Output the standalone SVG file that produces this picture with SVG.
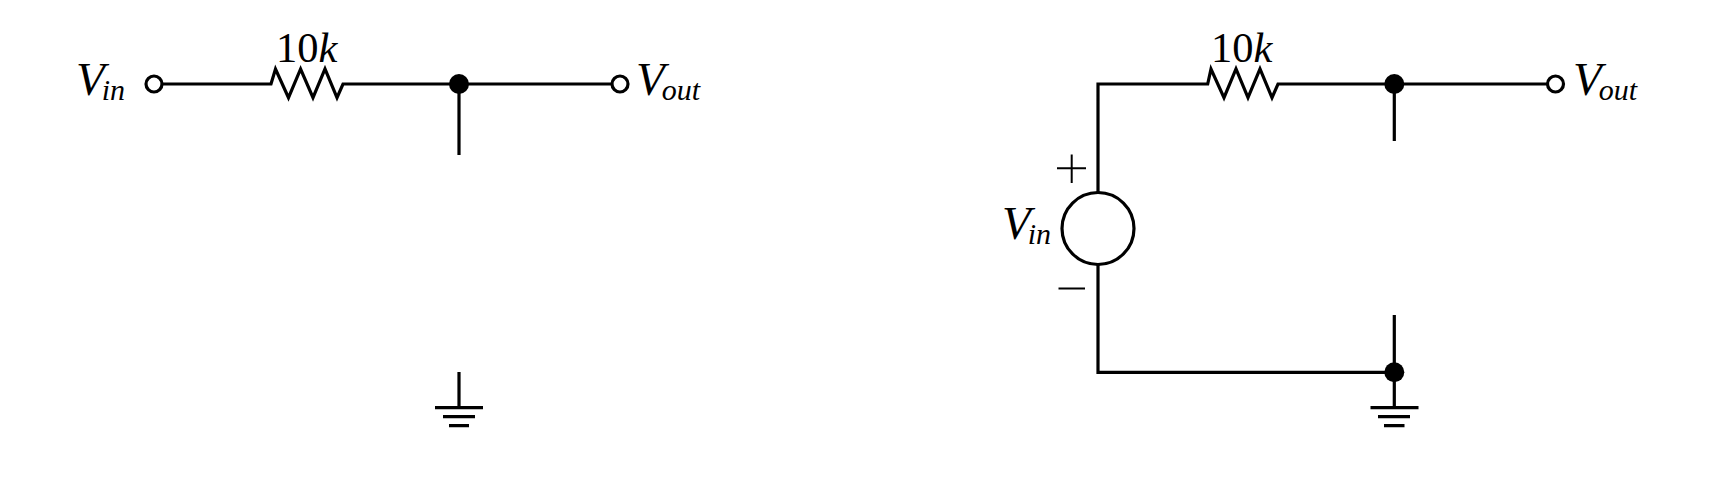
<svg xmlns="http://www.w3.org/2000/svg" width="1736" height="480" viewBox="0 0 1736 480">
<style>
.w{fill:none;stroke:#000;stroke-width:3.2;stroke-linejoin:miter}
.t{fill:none;stroke:#000;stroke-width:2}
.o{fill:#fff;stroke:#000;stroke-width:3.2}
.d{fill:#000}
text{font-family:"Liberation Serif","Times New Roman",serif;fill:#000}
.m{font-size:42.500px}
.v{font-size:47px;font-style:italic}
.s{font-size:30px}
</style>
<rect width="1736" height="480" fill="#fff"/>
<g id="connectors">
<path class="w" d="M162 84H271L275.500 69L288.500 97.700L300.600 69L313 97.700L325 69L337 97.700L343 84H612"/>
<path class="w" d="M459 84V155"/>
<path class="w" d="M459 372V407.700"/>
<path class="w" d="M1098 192V84H1207.700L1211 69L1224 97.700L1236 69L1248 97.700L1260 69L1272 97.700L1278 84H1547.500"/>
<path class="w" d="M1394.300 84V141"/>
<path class="w" d="M1098 265V372.300H1394.300"/>
<path class="w" d="M1394.300 315V407.700"/>
</g>
<g id="vin-terminal-left"><circle class="o" cx="154" cy="84" r="8"/><text class="v" x="76" y="95">V<tspan class="s" dx="-3" dy="5">in</tspan></text></g>
<g id="resistor-left-label"><text class="m" x="276" y="62">10<tspan font-style="italic">k</tspan></text></g>
<g id="node-left"><circle class="d" cx="459" cy="84" r="10"/></g>
<g id="vout-terminal-left"><circle class="o" cx="620" cy="84" r="8"/><text class="v" x="636" y="95">V<tspan class="s" dx="-3" dy="5">out</tspan></text></g>
<g id="ground-left"><path class="w" d="M435 407.700H483M443 416.700H475M449 425.700H469"/></g>
<g id="resistor-right-label"><text class="m" x="1211" y="62">10<tspan font-style="italic">k</tspan></text></g>
<g id="node-right-top"><circle class="d" cx="1394.300" cy="84" r="10"/></g>
<g id="vout-terminal-right"><circle class="o" cx="1555.500" cy="84" r="8"/><text class="v" x="1573" y="95">V<tspan class="s" dx="-3" dy="5">out</tspan></text></g>
<g id="source">
<circle class="o" cx="1098" cy="228.500" r="36"/>
<path class="t" d="M1057 168.300H1086M1071.700 154.500V183M1058.500 288.500H1085"/>
<text class="v" x="1002" y="239">V<tspan class="s" dx="-3" dy="5">in</tspan></text>
</g>
<g id="node-right-bottom"><circle class="d" cx="1394.300" cy="372.300" r="10"/></g>
<g id="ground-right"><path class="w" d="M1370.500 407.700H1418.500M1378 416.700H1410M1384 425.700H1404.500"/></g>
</svg>
